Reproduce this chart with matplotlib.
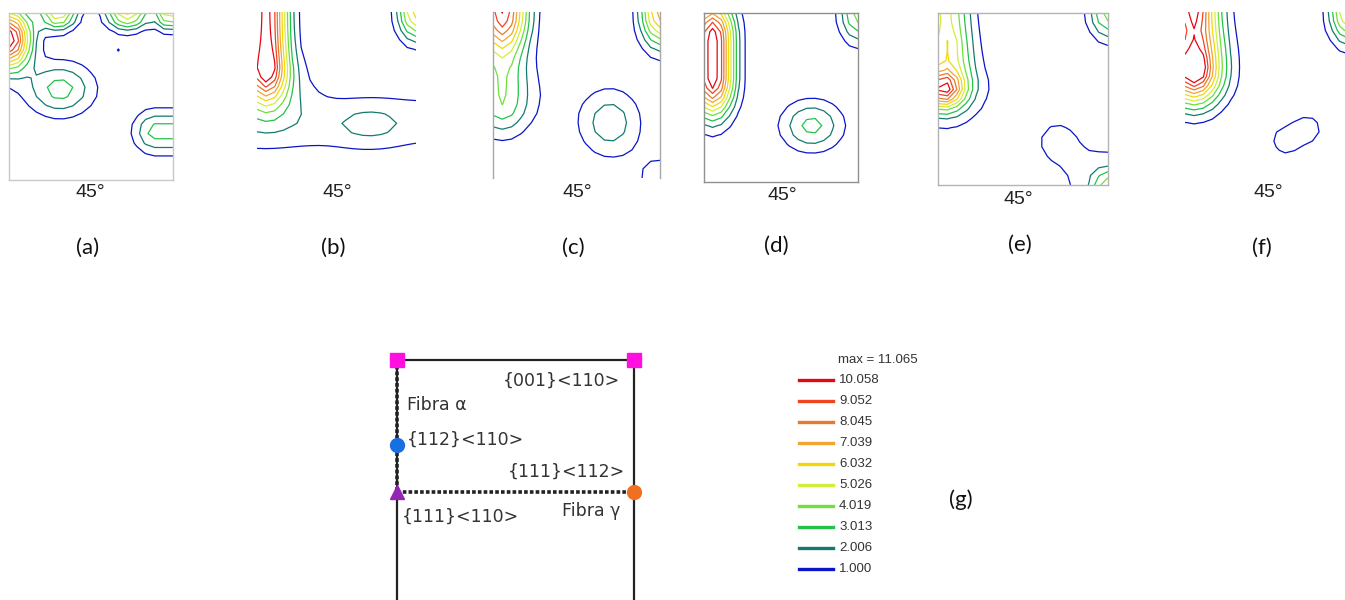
import matplotlib
matplotlib.use("Agg")
import matplotlib.pyplot as plt
from matplotlib.lines import Line2D
import numpy as np

W, H = 1345, 600

# contour levels and their colours (legend of the ODF sections)
levels = [1.000, 2.006, 3.013, 4.019, 5.026, 6.032, 7.039, 8.045, 9.052, 10.058]
level_colors = ['#0a14c8', '#127a6e', '#22c24a', '#6ee03a', '#d2ee3a',
                '#f2d808', '#f2a630', '#e8782c', '#ee4422', '#e00814']
max_value = 11.065

panel_labels = ['(a)', '(b)', '(c)', '(d)', '(e)', '(f)']
section_label = '45°'

# texture components read off each phi2 = 45° section
# (phi1_0, Phi_0, phi1_1, Phi_1, height, spread_phi1, spread_Phi) in degrees
peaks_a = [(0, 14, 0, 14, 11.2, 8, 11),
           (27, 0, 27, 0, 6.3, 7, 6),
           (65, 0, 65, 0, 6.3, 8, 6),
           (88, 0, 88, 0, 6.0, 5, 6),
           (28, 41, 28, 41, 3.5, 13, 10),
           (80, 64, 90, 64, 3.5, 8, 8),
           (60, 20, 60, 20, 1.05, 2.5, 2.5)]
peaks_b = [(5, 0, 5, 28, 10.8, 8.5, 14),
           (90, 0, 90, 0, 6.5, 7, 10.5),
           (0, 61, 90, 59, 1.5, 1, 12),
           (64, 61, 64, 61, 1.0, 13, 8),
           (10, 40, 10, 40, 1.5, 16, 14)]
peaks_c = [(5, 0, 5, 0, 7.5, 9.5, 15),
           (5, 0, 5, 50, 2.6, 9, 12),
           (5, 45, 5, 45, 1.5, 18, 14),
           (90, 0, 90, 0, 7.5, 7.2, 13),
           (63, 60, 63, 60, 2.7, 11.7, 13),
           (90, 90, 90, 90, 1.5, 10, 10)]
peaks_d = [(5, 14, 5, 34, 11.0, 8.5, 14.5),
           (90, 0, 90, 0, 4.5, 7.3, 10.8),
           (63, 60, 63, 60, 3.4, 12.5, 9.3)]
peaks_e = [(4, 0, 5, 15, 5.4, 9, 20),
           (5, 15, 5, 15, 0.4, 4, 4),
           (3, 40, 3, 40, 6.2, 7, 6),
           (0, 40, 0, 40, 2.5, 18, 12),
           (90, 0, 90, 0, 4.5, 6.9, 9.6),
           (90, 90, 90, 90, 3.0, 5, 5),
           (90, 90, 90, 90, 2.0, 16, 14),
           (63, 67, 63, 67, 1.35, 10, 10)]
peaks_f = [(5, 0, 5, 32, 9.0, 10, 13),
           (4, 0, 4, 0, 1.8, 5, 5),
           (5, 30, 5, 30, 1.8, 5, 5),
           (5, 30, 5, 30, 2.0, 16, 14),
           (90, 0, 90, 0, 6.5, 7.2, 11.6),
           (55.6, 69.6, 67.0, 63.6, 1.2, 11.6, 11.6)]
panel_peaks = [peaks_a, peaks_b, peaks_c, peaks_d, peaks_e, peaks_f]

# ideal orientations on the phi2 = 45° section (phi1, Phi)
comp_names = ['{001}<110>', '{001}<110>', '{112}<110>', '{111}<110>', '{111}<112>']
comp_phi1 = [0, 90, 0, 0, 90]
comp_Phi = [0, 0, 35.26, 54.74, 54.74]
comp_marker = ['s', 's', 'o', '^', 'o']
comp_color = ['#ff10e0', '#ff10e0', '#1a6fe0', '#9424b4', '#f07022']


def odf_section(parts, step=5.0):
    g = np.arange(0, 90 + step / 2, step)
    p1, P = np.meshgrid(g, g)
    f = np.zeros_like(p1)
    for x0, y0, x1, y1, h, sx, sy in parts:
        ux, uy = (p1 - x0) / sx, (P - y0) / sy
        dx, dy = (x1 - x0) / sx, (y1 - y0) / sy
        L2 = dx * dx + dy * dy
        t = np.clip((ux * dx + uy * dy) / L2, 0, 1) if L2 > 0 else 0
        d2 = (ux - t * dx) ** 2 + (uy - t * dy) ** 2
        f += h * np.exp(-d2 / 2)
    return p1, P, f


fig = plt.figure(figsize=(W / 100, H / 100), dpi=100)


def px_axes(x0, y0, x1, y1):
    return fig.add_axes([x0 / W, 1 - y1 / H, (x1 - x0) / W, (y1 - y0) / H])


def px_text(x, y, s, **kw):
    fig.text(x / W, 1 - y / H, s, ha=kw.pop('ha', 'center'), va=kw.pop('va', 'center'), **kw)


boxes = [(9, 13, 173, 180), (257, 12, 416, 179), (493, 12, 660, 178),
         (704, 13, 858, 182), (938, 13, 1108, 185), (1185, 12, 1349, 178)]
frames = ['all', 'none', 'sides', 'all', 'all', 'none']
frame_colors = ['#c8c8c8', 'w', '#a8a8a8', '#909090', '#b4b4b4', 'w']
deg_pos = [(90, 192), (337, 192), (577, 192), (782, 195), (1018, 199), (1268, 192)]
lab_pos = [(88, 248), (333, 248), (573, 248), (776, 246), (1020, 245), (1262, 248)]

for i in range(6):
    ax = px_axes(*boxes[i])
    p1, P, f = odf_section(panel_peaks[i])
    ax.contour(p1, P, f, levels=levels, colors=level_colors, linewidths=0.9)
    ax.set_xlim(0, 90)
    ax.set_ylim(90, 0)
    ax.set_xticks([])
    ax.set_yticks([])
    for side, sp in ax.spines.items():
        sp.set_color(frame_colors[i])
        sp.set_linewidth(1.0)
        if frames[i] == 'none' or (frames[i] == 'sides' and side in ('top', 'bottom')):
            sp.set_visible(False)
    px_text(*deg_pos[i], section_label, fontsize=14, family='Liberation Sans', color='#222222')
    px_text(*lab_pos[i], panel_labels[i], fontsize=16, family='Lato', color='#111111')

# schematic of the fibres on the phi2 = 45° section
ax = px_axes(397, 360, 634, 600)
ax.set_xlim(0, 90)
ax.set_ylim(99.5, 0)
ax.set_xticks([])
ax.set_yticks([])
for side, sp in ax.spines.items():
    sp.set_color('#222222')
    sp.set_linewidth(1.6)
ax.spines['bottom'].set_visible(False)
ax.plot([comp_phi1[0], comp_phi1[3]], [comp_Phi[0], comp_Phi[3]], color='#222222',
        linestyle=(0, (1, 0.6)), linewidth=2.6, clip_on=False)
ax.plot([comp_phi1[3], comp_phi1[4]], [comp_Phi[3], comp_Phi[4]], color='#222222',
        linestyle=(0, (1, 0.6)), linewidth=2.6, clip_on=False)
for k in range(len(comp_names)):
    ax.plot(comp_phi1[k], comp_Phi[k], marker=comp_marker[k], color=comp_color[k],
            markersize=10, clip_on=False, zorder=5)
txt = dict(fontsize=12.5, family='DejaVu Sans', color='#333333', va='center')
ax.text(84.7, 8.7, comp_names[0], ha='right', **txt)
ax.text(3.8, 18.7, 'Fibra α', ha='left', **txt)
ax.text(3.8, 33.2, comp_names[2], ha='left', **txt)
ax.text(86.6, 46.5, comp_names[4], ha='right', **txt)
ax.text(1.9, 65.0, comp_names[3], ha='left', **txt)
ax.text(84.7, 62.7, 'Fibra γ', ha='right', **txt)

# legend of contour levels
px_text(838, 360, 'max = %.3f' % max_value, ha='left', fontsize=9.5,
        family='Liberation Sans', color='#333333')
for i, (lv, col) in enumerate(zip(levels[::-1], level_colors[::-1])):
    y = 380 + i * 21
    fig.add_artist(Line2D([799 / W, 833 / W], [1 - y / H, 1 - y / H], color=col,
                          linewidth=2.4, transform=fig.transFigure))
    px_text(839, y, '%.3f' % lv, ha='left', fontsize=9.5, family='Liberation Sans',
            color='#333333')
px_text(961, 500, '(g)', fontsize=16, family='Lato', color='#111111')

fig.savefig('out.png', dpi=100)
